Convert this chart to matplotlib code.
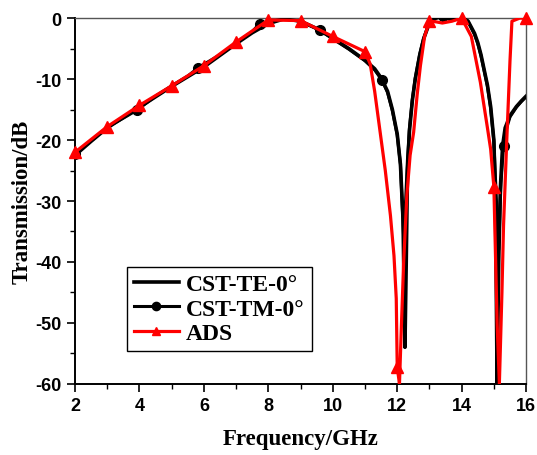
import numpy as np
import matplotlib
matplotlib.use("Agg")
import matplotlib.pyplot as plt
from matplotlib.ticker import MultipleLocator

# CST TE-0 curve
te_freq = [2.0, 2.5, 3.0, 3.5, 4.0, 4.5, 5.0, 5.5, 6.0, 6.5, 7.0, 7.5, 8.0, 8.5,
           9.0, 9.5, 10.0, 10.5, 11.0, 11.3, 11.5, 11.7, 11.85, 12.0, 12.1, 12.18,
           12.24, 12.28, 12.32, 12.38, 12.47, 12.56, 12.7, 12.82, 12.95, 13.05,
           13.2, 13.4, 13.6, 13.8, 14.0, 14.1, 14.2, 14.4, 14.5, 14.6, 14.7, 14.8,
           14.9, 15.0, 15.05, 15.1, 15.15, 15.2, 15.27, 15.35, 15.5, 15.7, 15.85, 16.0]
te_db = [-22.5, -20.2, -18.0, -16.3, -14.6, -12.9, -11.2, -9.6, -8.0, -6.1, -4.2,
         -2.4, -0.9, -0.1, -0.5, -1.7, -3.3, -5.0, -6.9, -8.3, -9.8, -12.0, -15.0,
         -19.0, -24.0, -33.0, -54.0, -40.0, -25.0, -18.5, -13.5, -10.0, -6.0, -3.4,
         -1.5, -0.5, 0.0, 0.3, -0.1, -0.2, 0.0, 0.0, -0.5, -2.5, -4.0, -6.0, -8.5,
         -11.0, -14.5, -20.0, -30.0, -60.0, -40.0, -28.0, -21.0, -18.0, -16.0,
         -14.5, -13.6, -12.8]

# CST TM-0 curve, markers sit at the points in tm_mark_freq
tm_freq = [2.0, 2.5, 3.0, 3.5, 3.92, 4.5, 5.0, 5.5, 5.83, 6.5, 7.0, 7.5, 7.73, 8.5,
           9.0, 9.61, 10.0, 10.5, 11.0, 11.3, 11.53, 11.7, 11.85, 12.0, 12.1,
           12.2, 12.26, 12.32, 12.38, 12.47, 12.56, 12.7, 12.82, 12.95, 13.05,
           13.2, 13.42, 13.6, 13.8, 14.0, 14.1, 14.2, 14.4, 14.5, 14.6, 14.7, 14.8,
           14.9, 15.0, 15.08, 15.15, 15.22, 15.3, 15.4, 15.5, 15.7, 15.85, 16.0]
tm_db = [-22.3, -20.1, -17.9, -16.4, -15.1, -12.8, -11.1, -9.5, -8.1, -6.0, -4.1,
         -2.2, -0.9, -0.1, -0.5, -2.0, -3.4, -5.1, -7.0, -8.5, -10.2, -12.2, -15.2,
         -19.2, -24.0, -36.0, -30.0, -23.0, -18.0, -13.3, -9.8, -5.9, -3.3, -1.4,
         -0.4, 0.0, 0.3, -0.1, -0.2, 0.0, 0.0, -0.6, -2.7, -4.2, -6.2, -8.7, -11.2,
         -14.8, -20.3, -30.0, -38.0, -27.0, -21.0, -18.0, -16.2, -14.6, -13.7, -12.9]
tm_mark_freq = [2.0, 3.92, 5.83, 7.73, 9.61, 11.53, 13.42, 15.3]

# ADS curve, triangles at every whole GHz
ads_freq = [2.0, 3.0, 4.0, 5.0, 6.0, 7.0, 8.0, 9.0, 10.0, 11.0, 11.16, 11.3, 11.47,
            11.63, 11.79, 11.9, 11.97, 12.0, 12.07, 12.12, 12.2, 12.3, 12.4, 12.51,
            12.62, 12.72, 12.85, 13.0, 13.2, 13.4, 13.7, 14.0, 14.3, 14.58, 14.8,
            14.9, 15.0, 15.1, 15.17, 15.25, 15.3, 15.4, 15.5, 15.56, 15.8, 16.0]
ads_db = [-22.0, -17.8, -14.3, -11.1, -7.8, -3.9, -0.3, -0.4, -3.0, -5.5, -7.5,
          -12.0, -18.7, -25.0, -32.4, -39.0, -46.0, -57.3, -60.0, -52.0, -40.0,
          -29.0, -22.5, -18.7, -12.5, -7.8, -3.0, -0.5, -0.6, -0.8, -0.5, 0.0,
          -3.0, -10.5, -18.0, -21.5, -27.7, -50.0, -60.0, -45.0, -34.0, -20.0,
          -7.0, -0.5, 0.0, 0.0]

plt.rcParams['font.family'] = ['Liberation Sans', 'DejaVu Sans']
plt.rcParams['axes.unicode_minus'] = False

fig = plt.figure(figsize=(5.37, 4.56), dpi=100)
ax = fig.add_axes([0.1397, 0.156, 0.84, 0.802])

ax.plot(te_freq, te_db, color='black', lw=2.6, label='CST-TE-0°', zorder=2)

tm_idx = [i for i, f in enumerate(tm_freq) if f in tm_mark_freq]
ax.plot(tm_freq, tm_db, color='black', lw=2.2, marker='o', ms=7,
        markevery=tm_idx, label='CST-TM-0°', zorder=3)

ads_idx = [i for i, f in enumerate(ads_freq) if float(f).is_integer()]
ax.plot(ads_freq, ads_db, color='red', lw=2.3, zorder=4)
ax.plot(np.array(ads_freq)[ads_idx], np.array(ads_db)[ads_idx], ls='none',
        color='red', marker='^', ms=9, clip_on=False, zorder=5)
# legend proxy for ADS (line + triangle)
ax.plot([], [], color='red', lw=2.3, marker='^', ms=7, label='ADS')

ax.set_xlim(2, 16)
ax.set_ylim(-60, 0)
ax.xaxis.set_major_locator(MultipleLocator(2))
ax.xaxis.set_minor_locator(MultipleLocator(1))
ax.yaxis.set_major_locator(MultipleLocator(10))
ax.yaxis.set_minor_locator(MultipleLocator(5))
ax.tick_params(which='major', direction='out', length=6, width=1.2,
               labelsize=13, top=False, right=False)
ax.tick_params(which='minor', direction='out', length=3.5, width=1.0,
               top=False, right=False)
for lab in ax.get_xticklabels() + ax.get_yticklabels():
    lab.set_fontweight('bold')

for side in ['left', 'bottom']:
    ax.spines[side].set_linewidth(1.4)
for side in ['top', 'right']:
    ax.spines[side].set_linewidth(1.0)
    ax.spines[side].set_color('#555555')

lab_font = dict(family='Liberation Serif', fontweight='bold', fontsize=16.5)
ax.set_xlabel('Frequency/GHz', labelpad=10, **lab_font)
ax.set_ylabel('Transmission/dB', labelpad=2, **lab_font)

leg = ax.legend(loc='lower left', bbox_to_anchor=(0.115, 0.09), fancybox=False,
                edgecolor='black', framealpha=1, handlelength=1.9,
                borderpad=0.3, labelspacing=0.12, handletextpad=0.3,
                borderaxespad=0.0, markerscale=0.85,
                prop=dict(family='Liberation Serif', weight='bold', size=17))
leg.get_frame().set_linewidth(1.0)

fig.savefig('out.png', dpi=100)
